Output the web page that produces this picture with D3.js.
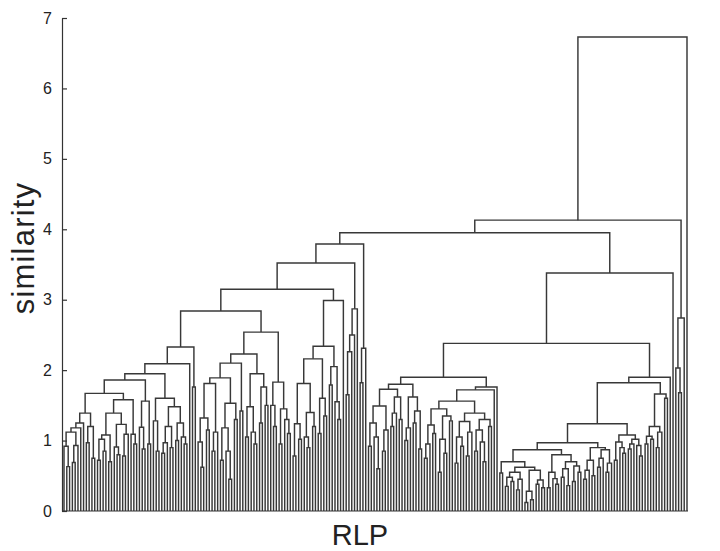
<!DOCTYPE html>
<html><head><meta charset="utf-8">
<script src="https://cdn.jsdelivr.net/npm/d3@7"></script>
<style>body{margin:0;background:#fff}</style>
</head><body><svg id="c" width="720" height="551"></svg>
<script>
// ---- data: dendrogram as nested arrays [mergeHeight, leftChild, rightChild]; 0 = leaf ----
const yTicks = [0, 1, 2, 3, 4, 5, 6, 7];
const axisLabels = { x: "RLP", y: "similarity" };

// far-left group P1 (node 2.33)
const a092 = [0.92, 0, [0.63, 0, 0]];
const a093 = [0.93, [0.69, 0, 0], 0];
const a125 = [1.25, [1.18, [1.12, a092, a093], 0], 0];
const a120 = [1.2, [0.97, 0, 0], [0.75, 0, 0]];
const a139 = [1.39, a125, a120];
const b108 = [1.08, [1.02, [0.72, 0, 0], [0.85, 0, 0]], [0.7, 0, 0]];
const b123 = [1.23, [0.91, 0, [0.8, 0, 0]], [1.09, [0.78, 0, 0], 0]];
const b158 = [1.58, [1.39, b108, b123], [1.09, 0, [0.95, 0, 0]]];
const s1b = [1.56, [1.19, 0, [0.88, 0, 0]], [0.95, 0, 0]];
const r1a = [1.86, [1.67, a139, b158], s1b];
const r1b = [1.6, [1.28, 0, [0.85, 0, 0]], [1.48, [1.2, [0.97, [0.82, 0, 0], 0], [0.9, 0, 0]], [1.25, [1.0, 0, 0], [1.05, 0, [0.95, 0, 0]]]]];
const grpP1 = [2.33, [2.09, [1.95, r1a, r1b], 0], [1.76, 0, 0]];

// group P2 (node 2.54)
const c181 = [1.81, [1.32, [0.98, 0, [0.62, 0, 0]], [1.15, 0, 0]], [1.12, [0.85, 0, 0], 0]];
const c153 = [1.53, [1.18, [0.72, 0, 0], [0.85, 0, [0.45, 0, 0]]], [1.3, 0, 0]];
const c21 = [2.1, [1.89, c181, c153], [1.42, 0, 0]];
const c195 = [1.95, [1.48, [1.05, 0, 0], [1.12, 0, [0.95, 0, 0]]], [1.76, [1.25, 0, 0], [1.5, 0, 0]]];
const c183 = [1.83, [1.5, 0, [1.2, 0, 0]], [1.45, [0.95, 0, 0], [1.3, 0, [1.1, 0, 0]]]];
const grpP2 = [2.54, [2.23, c21, c195], c183];

// group F (node 2.99)
const f181 = [1.81, [1.24, [0.78, 0, 0], [1.02, 0, 0]], [1.4, [1.05, 0, [0.9, 0, 0]], [1.2, 0, 0]]];
const f216 = [2.16, f181, [1.6, [1.1, 0, 0], [1.35, 0, 0]]];
const f205 = [2.05, [1.79, 0, 0], [1.55, 0, [1.3, 0, 0]]];
const grpF = [2.99, [2.34, f216, f205], 0];

const grpG = [2.87, [2.5, [2.26, [1.65, 0, 0], 0], 0], 0];
const grpH = [2.31, [1.82, 0, 0], 0];

// group I (node 1.90)
const i173 = [1.73, [1.49, [1.25, [0.92, 0, 0], [1.05, 0, [0.6, 0, 0]]], [1.15, [0.85, 0, 0], 0]], [1.62, [1.39, [1.2, 0, 0], 0], [1.3, 0, 0]]];
const i162 = [1.62, [1.18, [1.0, 0, 0], 0], [1.42, [1.25, 0, 0], [0.88, 0, 0]]];
const i145 = [1.45, [1.22, [0.95, [0.75, 0, 0], 0], [1.1, 0, 0]], [1.35, [1.02, [0.55, 0, 0], [0.82, 0, 0]], [1.28, 0, 0]]];
const i139 = [1.39, [1.27, [1.05, [0.68, 0, 0], [0.92, 0, 0]], [1.12, [0.78, 0, 0], 0]], [1.3, [1.15, [0.85, 0, 0], [0.98, 0, [0.7, 0, 0]]], [1.2, 0, 0]]];
const grpI = [1.9, [1.8, i173, i162], [1.76, [1.72, [1.56, i145, i139], 0], 0]];

// low group (node 1.82)
const l062 = [0.62, [0.55, [0.48, [0.35, 0, 0], [0.42, 0, 0]], [0.45, [0.3, 0, 0], 0]], [0.58, [0.28, [0.12, 0, 0], [0.16, 0, 0]], [0.44, [0.38, 0, 0], [0.33, 0, 0]]]];
const l080 = [0.8, [0.55, [0.33, 0, 0], [0.46, 0, [0.38, 0, 0]]], [0.7, [0.6, [0.48, 0, 0], [0.36, 0, 0]], [0.64, [0.42, 0, 0], [0.55, 0, 0]]]];
const l090 = [0.9, [0.72, [0.58, [0.45, 0, 0], 0], [0.5, 0, 0]], [0.87, [0.75, [0.62, 0, 0], 0], [0.68, [0.55, 0, 0], 0]]];
const l108 = [1.08, [0.98, [0.72, 0, 0], [0.9, 0, [0.82, 0, 0]]], [1.02, [0.95, [0.88, 0, 0], 0], [0.93, 0, [0.78, 0, 0]]]];
const l166 = [1.66, [1.2, [1.06, [0.95, 0, 0], [1.02, 0, 0]], [1.12, [0.9, 0, 0], 0]], [1.6, 0, 0]];
const grpLow = [1.82, [1.24, [0.97, [0.87, [0.7, [0.54, 0, 0], l062], l080], l090], l108], l166];

const grpRc = [2.74, [2.03, 0, [1.68, 0, 0]], 0];

// top-level merges
const treeData = [6.73,
  [4.13,
    [3.95,
      [3.79, [3.52, [3.15, [2.84, grpP1, grpP2], grpF], grpG], grpH],
      [3.38, [2.38, grpI, [1.9, grpLow, 0]], 0]],
    grpRc],
  0];

function toNode(a) {
  return Array.isArray(a) ? { h: a[0], children: a.slice(1).map(toNode) } : { h: 0 };
}

const W = 720, H = 551;
const margin = { left: 62, right: 33, top: 18, bottom: 40 };
const svg = d3.select('#c');

const root = d3.hierarchy(toNode(treeData));
const leaves = root.leaves();
const x = d3.scaleLinear().domain([0, leaves.length - 1]).range([64, 687]);
const y = d3.scaleLinear().domain([0, 7]).range([H - margin.bottom, margin.top]);

leaves.forEach((d, k) => { d.x = x(k); });
root.eachAfter(d => { if (d.children) d.x = d3.mean(d.children, c => c.x); });

const links = [];
root.each(d => {
  if (d.children) {
    const a = d.children[0], b = d.children[d.children.length - 1];
    links.push(`M${a.x},${y(a.data.h)}V${y(d.data.h)}H${b.x}V${y(b.data.h)}`);
  }
});
svg.append('g').selectAll('path').data(links).join('path')
  .attr('d', p => p)
  .attr('fill', 'none')
  .attr('stroke', '#383838')
  .attr('stroke-width', 1.45);

// axes
const yAxis = d3.axisLeft(y).tickValues(yTicks).tickFormat(d3.format('d'))
  .tickSizeInner(-5).tickSizeOuter(0).tickPadding(10);
const ya = svg.append('g').attr('transform', `translate(${margin.left},0)`).call(yAxis);
ya.select('.domain').attr('stroke', '#333').attr('stroke-width', 1.2);
ya.selectAll('.tick line').attr('stroke', '#333').attr('stroke-width', 1.2);
ya.selectAll('.tick text').attr('font-family', 'Liberation Sans, Arial, sans-serif').attr('font-size', 16).attr('fill', '#222');

svg.append('line').attr('x1', margin.left).attr('x2', 688).attr('y1', y(0)).attr('y2', y(0))
  .attr('stroke', '#333').attr('stroke-width', 1.2);

svg.append('text').attr('x', 360).attr('y', 545).attr('text-anchor', 'middle')
  .attr('font-family', 'Liberation Sans, Arial, sans-serif').attr('font-size', 29).attr('fill', '#222')
  .text(axisLabels.x);
svg.append('text').attr('transform', 'translate(34,248) rotate(-90)').attr('text-anchor', 'middle')
  .attr('font-family', 'Liberation Sans, Arial, sans-serif').attr('font-size', 31)
  .attr('letter-spacing', 1.2).attr('fill', '#222')
  .text(axisLabels.y);
</script>
</body></html>
